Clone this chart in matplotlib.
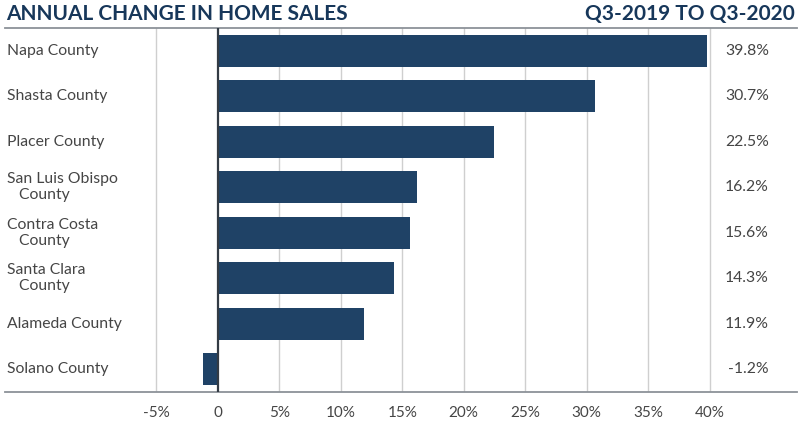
import numpy as np
import matplotlib.pyplot as plt

# data
counties = ['Napa County', 'Shasta County', 'Placer County',
            'San Luis Obispo\n   County', 'Contra Costa\n   County',
            'Santa Clara\n   County', 'Alameda County', 'Solano County']
change = [39.8, 30.7, 22.5, 16.2, 15.6, 14.3, 11.9, -1.2]
ticks = [-5, 0, 5, 10, 15, 20, 25, 30, 35, 40]
tick_labels = ['-5%', '0', '5%', '10%', '15%', '20%', '25%', '30%', '35%', '40%']

navy = '#1f4266'
txt = '#454545'

plt.rcParams['font.family'] = ['Lato', 'DejaVu Sans']

W, H = 800, 437
fig = plt.figure(figsize=(8, 4.37), dpi=100)
ax = fig.add_axes([5 / W, (H - 392) / H, 792 / W, 364 / H])

y = np.arange(len(counties))
ax.barh(y, change, height=0.7, color=navy, zorder=3)

ax.set_ylim(len(counties) - 0.5, -0.5)
ax.set_xlim(-17.3, 47.1)

for t in ticks:
    ax.axvline(t, color='#333b44' if t == 0 else '#cfcfcf',
               lw=1.6 if t == 0 else 1, zorder=4 if t == 0 else 1)

ax.set_xticks(ticks)
ax.set_xticklabels(tick_labels, fontsize=11, color=txt)
ax.tick_params(axis='x', length=0, pad=10)
ax.set_yticks([])

for s in ['left', 'right']:
    ax.spines[s].set_visible(False)
for s in ['top', 'bottom']:
    ax.spines[s].set_color('#8c9298')
    ax.spines[s].set_linewidth(1.3)

for i, (name, v) in enumerate(zip(counties, change)):
    ax.text(0.002, i, name, transform=ax.get_yaxis_transform(),
            ha='left', va='center', fontsize=11.3, color=txt, linespacing=1.15)
    ax.text(0.9645, i, f'{v:.1f}%', transform=ax.get_yaxis_transform(),
            ha='right', va='center', fontsize=11.3, color=txt)

fig.text(6 / W, 1 - 14 / H, 'ANNUAL CHANGE IN HOME SALES', ha='left', va='center',
         fontsize=15, fontweight='bold', color='#17375a')
fig.text(795 / W, 1 - 14 / H, 'Q3-2019 TO Q3-2020', ha='right', va='center',
         fontsize=15, fontweight='bold', color='#17375a')

fig.savefig('out.png', dpi=100)
